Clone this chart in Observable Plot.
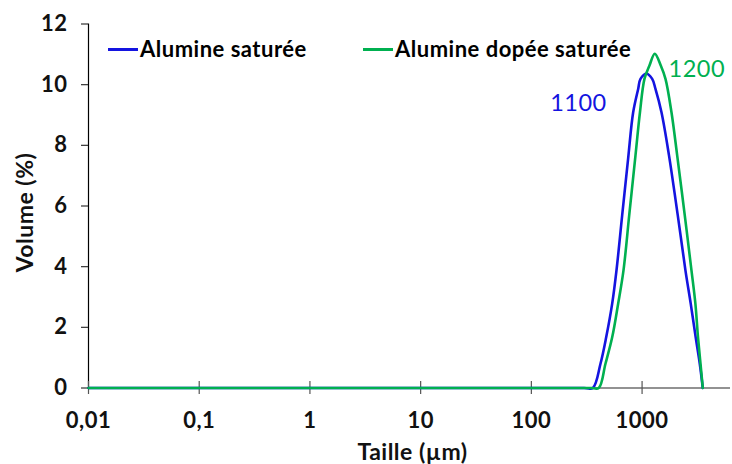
<!DOCTYPE html>
<html>
<head>
<meta charset="utf-8">
<script src="https://cdn.jsdelivr.net/npm/d3@7"></script>
<script src="https://cdn.jsdelivr.net/npm/@observablehq/plot@0.6"></script>
<style>
  html, body { margin: 0; padding: 0; background: #fff; }
  #wrap { position: relative; width: 732px; height: 464px; font-family: Lato, "Open Sans", sans-serif; }
  #wrap svg text { letter-spacing: 0.5px; }
  .leg { position: absolute; font-weight: bold; font-size: 22px; letter-spacing: 0.5px; color: #000; line-height: 1; white-space: nowrap; }
  .sw { position: absolute; height: 2.5px; }
</style>
</head>
<body>
<div id="wrap"></div>
<script>
// Series names and colours
const seriesNames = ["Alumine saturée", "Alumine dopée saturée"];
const seriesColors = ["#1414e0", "#00b050"];

// Alumine saturée: size (µm) and volume (%)
const sizesBlue  = [0.01, 300, 359, 421, 474, 537, 587, 661, 749, 831, 922, 968, 1096, 1234, 1321, 1497, 1750, 2101, 2466, 2750, 3050, 3320, 3535];
const volumeBlue = [0,    0,   0,   0.80, 1.67, 2.78, 3.87, 5.69, 7.58, 9.09, 9.86, 10.19, 10.36, 10.19, 9.86, 9.09, 7.67, 5.69, 3.87, 2.78, 1.67, 0.80, 0];

// Alumine dopée saturée
const sizesGreen  = [0.01, 350, 406, 467, 537, 608, 679, 765, 872, 957, 1051, 1166, 1302, 1475, 1627, 1843, 2075, 2430, 2795, 3030, 3200, 3370, 3535];
const volumeGreen = [0,    0,   0,   0.80, 1.67, 2.78, 3.87, 5.69, 7.67, 9.09, 10.19, 10.63, 11.02, 10.63, 10.19, 9.09, 7.67, 5.69, 3.87, 2.78, 1.67, 0.80, 0];

// Peak annotations
const peakLabels = ["1100", "1200"];
const peakSizes = [1096, 1302];
const peakVolumes = [10.36, 11.02];

// Axis ticks
const xTicks = [0.01, 0.1, 1, 10, 100, 1000];
const xTickLabels = ["0,01", "0,1", "1", "10", "100", "1000"];
const yTicks = [0, 2, 4, 6, 8, 10, 12];
const xTitle = "Taille (µm)";
const yTitle = "Volume (%)";

const blue = sizesBlue.map((s, i) => ({size: s, vol: volumeBlue[i]}));
const green = sizesGreen.map((s, i) => ({size: s, vol: volumeGreen[i]}));
const peaks = peakLabels.map((l, i) => ({label: l, size: peakSizes[i], vol: peakVolumes[i], i}));
const xLabelOf = new Map(xTicks.map((t, i) => [t, xTickLabels[i]]));

const font = "Lato, 'Open Sans', sans-serif";

const chart = Plot.plot({
  width: 732,
  height: 464,
  marginLeft: 88,
  marginRight: 2,
  marginTop: 23.5,
  marginBottom: 76.5,
  style: {fontFamily: font, background: "#fff", overflow: "visible"},
  x: {type: "log", domain: [0.01, 6290]},
  y: {domain: [0, 12]},
  marks: [
    Plot.ruleY([0], {stroke: "#6e6e6e", strokeWidth: 1.5}),
    Plot.ruleX([0.01], {stroke: "#000", strokeWidth: 1.2}),
    Plot.axisY(yTicks, {tickSize: 7, tickPadding: 14, stroke: "#333", strokeWidth: 1.2, fontSize: 22, fontWeight: "bold", fill: "#111", label: null, tickFormat: d => String(d)}),
    Plot.axisX(xTicks, {tickSize: 13, dy: -6.5, stroke: "#555", strokeWidth: 1.2, label: null, tickFormat: () => ""}),
    Plot.axisX(xTicks, {tickSize: 0, tickPadding: 24, fontSize: 22, fontWeight: "bold", fill: "#111", label: null, tickFormat: d => xLabelOf.get(d)}),
    Plot.text([xTitle], {frameAnchor: "bottom", dx: 3, dy: 65, fontSize: 23, fontWeight: "bold", fill: "#111", textAnchor: "middle", lineAnchor: "middle"}),
    Plot.text([yTitle], {frameAnchor: "left", rotate: -90, dx: -63, dy: 6.5, fontSize: 23, fontWeight: "bold", fill: "#111", textAnchor: "middle", lineAnchor: "middle"}),
    Plot.line(blue, {x: "size", y: "vol", stroke: seriesColors[0], strokeWidth: 2.6, curve: "catmull-rom"}),
    Plot.line(green, {x: "size", y: "vol", stroke: seriesColors[1], strokeWidth: 2.6, curve: "catmull-rom"}),
    Plot.text(peaks.filter(p => p.i === 0), {x: "size", y: "vol", text: "label", dx: -68, dy: 30, fontSize: 23.5, fill: seriesColors[0], textAnchor: "middle"}),
    Plot.text(peaks.filter(p => p.i === 1), {x: "size", y: "vol", text: "label", dx: 42, dy: 16, fontSize: 23.5, fill: seriesColors[1], textAnchor: "middle"})
  ]
});

const wrap = document.getElementById("wrap");
wrap.appendChild(chart);

// Legend overlay
const legendPos = [{sw: 108, tx: 140}, {sw: 363, tx: 395}];
seriesNames.forEach((name, i) => {
  const sw = document.createElement("div");
  sw.className = "sw";
  sw.style.left = legendPos[i].sw + "px";
  sw.style.top = "48px";
  sw.style.width = "30px";
  sw.style.background = seriesColors[i];
  wrap.appendChild(sw);
  const t = document.createElement("div");
  t.className = "leg";
  t.textContent = name;
  t.style.left = legendPos[i].tx + "px";
  t.style.top = "38px";
  wrap.appendChild(t);
});
</script>
</body>
</html>
